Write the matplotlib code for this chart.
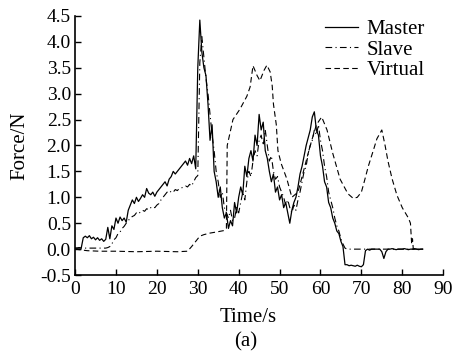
import matplotlib
matplotlib.use("Agg")
import matplotlib.pyplot as plt
import numpy as np

# master force, sampled every 0.5 s from 0 to 85 s
master_t = np.arange(0, 85.5, 0.5)
master_f = [
    0.02, 0.02, 0.03, 0.02, 0.22, 0.25, 0.22, 0.26, 0.20, 0.23,   # 0 - 4.5
    0.18, 0.22, 0.17, 0.20, 0.15, 0.19, 0.42, 0.20, 0.45, 0.38,   # 5 - 9.5
    0.60, 0.50, 0.62, 0.55, 0.60, 0.52, 0.75, 0.85, 0.95, 0.88,   # 10 - 14.5
    1.00, 0.92, 0.98, 1.05, 1.00, 1.17, 1.08, 1.05, 1.10, 1.02,   # 15 - 19.5
    1.10, 1.15, 1.20, 1.25, 1.30, 1.22, 1.35, 1.40, 1.50, 1.45,   # 20 - 24.5
    1.50, 1.55, 1.60, 1.65, 1.70, 1.62, 1.75, 1.65, 1.80, 1.55,   # 25 - 29.5
    3.50, 4.42, 3.80, 3.50, 3.35, 2.80, 2.10, 2.40, 1.50, 1.30,   # 30 - 34.5
    1.00, 1.20, 0.80, 0.60, 0.70, 0.40, 0.55, 0.45, 0.90, 0.70,   # 35 - 39.5
    1.00, 1.20, 1.05, 1.60, 1.40, 1.75, 1.90, 1.70, 2.20, 2.00,   # 40 - 44.5
    2.60, 2.30, 2.45, 1.90, 1.75, 1.50, 1.30, 1.45, 1.10, 1.20,   # 45 - 49.5
    0.95, 1.05, 0.80, 0.90, 0.70, 0.50, 0.75, 0.90, 1.00, 1.20,   # 50 - 54.5
    1.45, 1.60, 1.80, 2.00, 2.15, 2.30, 2.55, 2.65, 2.30, 2.20,   # 55 - 59.5
    1.80, 1.60, 1.30, 1.20, 0.90, 0.80, 0.60, 0.50, 0.35, 0.30,   # 60 - 64.5
    0.15, 0.05, -0.30, -0.30, -0.32, -0.31, -0.32, -0.33, -0.31, -0.33,  # 65 - 69.5
    -0.34, -0.30, -0.03, 0.00, -0.02, 0.00, 0.00, 0.00, 0.00, 0.00,  # 70 - 74.5
    -0.05, -0.18, -0.05, 0.00, 0.00, 0.01, 0.00, -0.01, 0.00, 0.00,  # 75 - 79.5
    0.00, 0.01, 0.00, -0.01, 0.00, 0.00, 0.01, 0.00, -0.01, 0.00,   # 80 - 84.5
    0.00,                                                           # 85
]

# slave force, same time base
slave_t = np.arange(0, 85.5, 0.5)
slave_f = [
    0.02, 0.02, 0.02, 0.02, 0.02, 0.02, 0.02, 0.02, 0.02, 0.02,   # 0 - 4.5
    0.02, 0.02, 0.02, 0.02, 0.02, 0.02, 0.03, 0.05, 0.10, 0.18,   # 5 - 9.5
    0.22, 0.30, 0.33, 0.40, 0.44, 0.50, 0.55, 0.60, 0.63, 0.65,   # 10 - 14.5
    0.70, 0.68, 0.72, 0.75, 0.73, 0.78, 0.76, 0.80, 0.82, 0.80,   # 15 - 19.5
    0.85, 0.88, 0.95, 1.00, 1.05, 1.10, 1.08, 1.12, 1.10, 1.15,   # 20 - 24.5
    1.13, 1.17, 1.18, 1.20, 1.22, 1.20, 1.25, 1.22, 1.30, 1.38,   # 25 - 29.5
    1.42, 3.60, 4.10, 3.70, 3.30, 3.00, 2.60, 2.20, 1.90, 1.50,   # 30 - 34.5
    1.30, 1.00, 1.10, 0.80, 0.70, 0.60, 0.75, 0.55, 0.60, 0.80,   # 35 - 39.5
    0.70, 0.90, 1.10, 0.95, 1.30, 1.50, 1.40, 1.70, 1.90, 1.80,   # 40 - 44.5
    2.10, 2.20, 2.00, 2.30, 2.00, 1.70, 1.80, 1.50, 1.35, 1.40,   # 45 - 49.5
    1.20, 1.10, 1.00, 0.85, 0.95, 0.80, 0.70, 0.85, 0.75, 0.95,   # 50 - 54.5
    1.10, 1.30, 1.50, 1.60, 1.85, 2.00, 2.10, 2.30, 2.20, 2.40,   # 55 - 59.5
    2.10, 1.90, 1.60, 1.40, 1.10, 0.95, 0.80, 0.60, 0.45, 0.35,   # 60 - 64.5
    0.20, 0.10, 0.02, 0.00, 0.00, 0.00, 0.00, 0.00, 0.00, 0.00,   # 65 - 69.5
    0.00, 0.00, 0.00, 0.00, 0.00, 0.00, 0.00, 0.00, 0.00, 0.00,   # 70 - 74.5
    0.00, 0.00, 0.00, 0.00, 0.00, 0.00, 0.00, 0.00, 0.00, 0.00,   # 75 - 79.5
    0.00, 0.00, 0.00, 0.00, 0.00, 0.00, 0.00, 0.00, 0.00, 0.00,   # 80 - 84.5
    0.00,                                                           # 85
]

# virtual force, irregular samples
virtual_t = [0, 3, 6, 10, 15, 20, 25, 27.5, 28.5, 29.5, 30.5, 31.5, 33, 34.5,
             36.5, 37, 37.2, 38.6, 40.3, 42, 42.8, 43.5, 44.5, 45.2, 46.2,
             46.9, 47.7, 48.2, 48.5, 49.2, 49.6, 50.4, 51.8, 53, 54.5, 56,
             57.5, 59, 60.3, 61.6, 63, 64.8, 66.7, 68, 69, 70, 70.7, 71.7,
             72.9, 73.8, 75, 75.8, 76.5, 77.5, 78.7, 80, 81.5, 82, 82.3,
             82.5, 82.7, 85]
virtual_f = [0.0, -0.03, -0.04, -0.04, -0.05, -0.04, -0.05, -0.04, 0.05, 0.15,
             0.25, 0.28, 0.31, 0.33, 0.36, 0.40, 2.00, 2.50, 2.70, 2.95, 3.13,
             3.54, 3.35, 3.25, 3.45, 3.55, 3.42, 3.15, 2.80, 2.40, 1.90, 1.65,
             1.35, 1.00, 1.10, 1.55, 2.00, 2.40, 2.55, 2.30, 1.85, 1.35, 1.07,
             0.98, 1.00, 1.10, 1.30, 1.60, 1.90, 2.13, 2.30, 2.00, 1.70, 1.36,
             1.04, 0.80, 0.60, 0.50, 0.10, 0.20, 0.00, 0.00]

x_ticks = np.arange(0, 91, 10)
y_ticks = np.arange(-0.5, 4.51, 0.5)

plt.rcParams["font.family"] = "Liberation Serif"
plt.rcParams["font.size"] = 15

fig = plt.figure(figsize=(4.55, 3.54), dpi=100)
ax = fig.add_axes([0.165, 0.223, 0.809, 0.732])

ax.plot(master_t, master_f, color="black", lw=0.9, label="Master")
ax.plot(slave_t, slave_f, color="black", lw=0.8, linestyle=(0, (6, 3, 1, 3)), label="Slave")
ax.plot(virtual_t, virtual_f, color="black", lw=0.8, linestyle=(0, (5, 3)), label="Virtual")

ax.set_xlim(0, 90)
ax.set_ylim(-0.5, 4.5)
ax.set_xticks(x_ticks)
ax.set_yticks(y_ticks)
ax.set_yticklabels(["%.1f" % v for v in y_ticks])
ax.tick_params(direction="in", length=4, width=1, labelsize=14)
ax.tick_params(axis="x", pad=4)
ax.tick_params(axis="y", pad=3)
ax.spines["top"].set_visible(False)
ax.spines["right"].set_visible(False)
ax.spines["left"].set_linewidth(1.2)
ax.spines["bottom"].set_linewidth(1.2)

ax.set_xlabel("Time/s")
ax.set_ylabel("Force/N")
ax.xaxis.set_label_coords(0.47, -0.127)
ax.yaxis.set_label_coords(-0.125, 0.5)
fig.text(0.54, 0.034, "(a)", ha="center", va="center", fontsize=15)

ax.legend(loc="upper right", bbox_to_anchor=(0.985, 1.035), frameon=False,
          handlelength=1.6, handletextpad=0.4, labelspacing=0.05,
          borderpad=0.1, fontsize=15)

fig.savefig("out.png", dpi=100)
